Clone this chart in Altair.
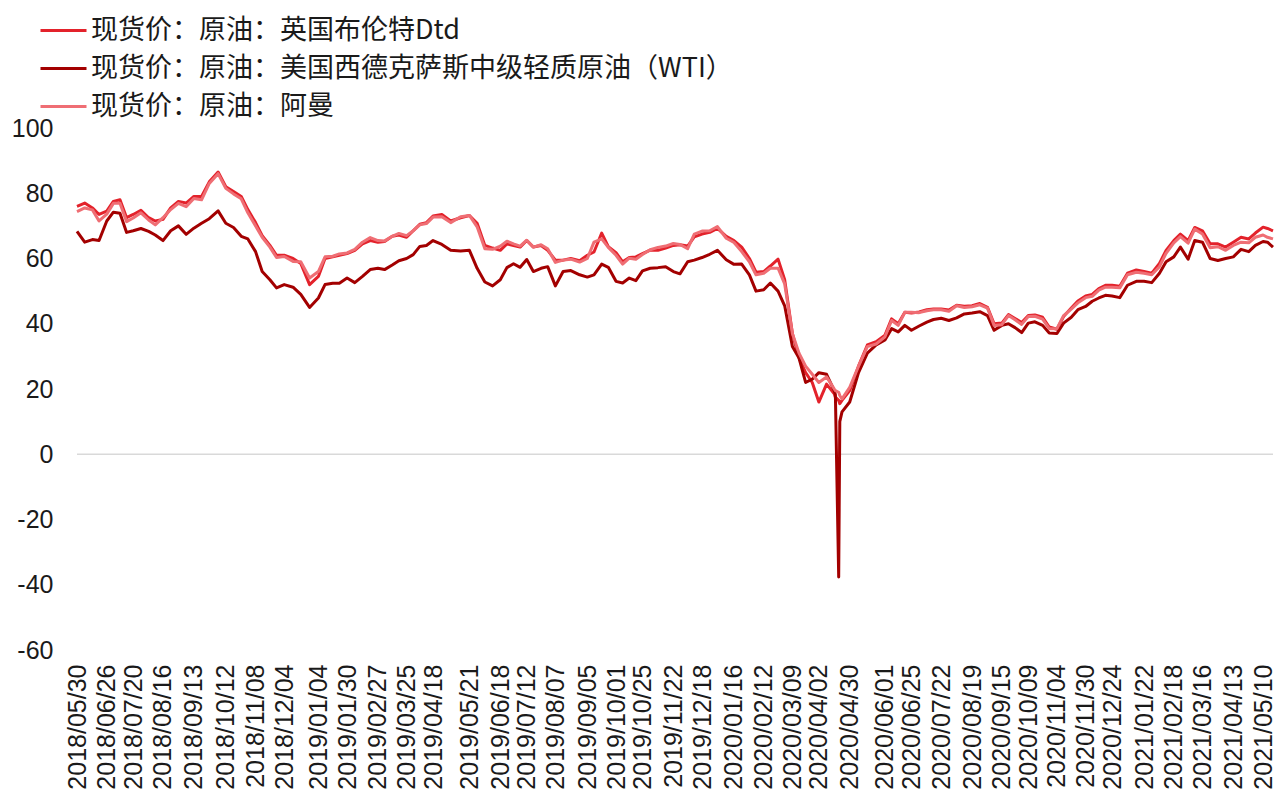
import altair as alt
import pandas as pd

# ---------------- data ----------------
tick_labels = [
    "2018/05/30", "2018/06/26", "2018/07/20", "2018/08/16", "2018/09/13", "2018/10/12",
    "2018/11/08", "2018/12/04", "2019/01/04", "2019/01/30", "2019/02/27", "2019/03/25",
    "2019/04/18", "2019/05/21", "2019/06/18", "2019/07/12", "2019/08/07", "2019/09/05",
    "2019/10/01", "2019/10/25", "2019/11/22", "2019/12/18", "2020/01/16", "2020/02/12",
    "2020/03/09", "2020/04/02", "2020/04/30", "2020/06/01", "2020/06/25", "2020/07/22",
    "2020/08/19", "2020/09/15", "2020/10/09", "2020/11/04", "2020/11/30", "2020/12/24",
    "2021/01/22", "2021/02/18", "2021/03/16", "2021/04/13", "2021/05/10",
]

y_ticks = [-60, -40, -20, 0, 20, 40, 60, 80, 100]

dates = [
    "2018-05-30", "2018-06-06", "2018-06-13", "2018-06-19",
    "2018-06-26", "2018-07-02", "2018-07-08", "2018-07-14",
    "2018-07-20", "2018-07-27", "2018-08-03", "2018-08-09",
    "2018-08-16", "2018-08-23", "2018-08-30", "2018-09-06",
    "2018-09-13", "2018-09-20", "2018-09-27", "2018-10-05",
    "2018-10-12", "2018-10-19", "2018-10-26", "2018-11-01",
    "2018-11-08", "2018-11-14", "2018-11-21", "2018-11-27",
    "2018-12-04", "2018-12-12", "2018-12-19", "2018-12-27",
    "2019-01-04", "2019-01-10", "2019-01-17", "2019-01-23",
    "2019-01-30", "2019-02-06", "2019-02-13", "2019-02-20",
    "2019-02-27", "2019-03-05", "2019-03-12", "2019-03-18",
    "2019-03-25", "2019-03-31", "2019-04-06", "2019-04-12",
    "2019-04-18", "2019-04-26", "2019-05-04", "2019-05-13",
    "2019-05-21", "2019-05-28", "2019-06-04", "2019-06-11",
    "2019-06-18", "2019-06-24", "2019-06-30", "2019-07-06",
    "2019-07-12", "2019-07-18", "2019-07-25", "2019-07-31",
    "2019-08-07", "2019-08-14", "2019-08-21", "2019-08-29",
    "2019-09-05", "2019-09-11", "2019-09-18", "2019-09-24",
    "2019-10-01", "2019-10-07", "2019-10-13", "2019-10-19",
    "2019-10-25", "2019-11-01", "2019-11-08", "2019-11-15",
    "2019-11-22", "2019-11-28", "2019-12-05", "2019-12-11",
    "2019-12-18", "2019-12-25", "2020-01-01", "2020-01-09",
    "2020-01-16", "2020-01-23", "2020-01-30", "2020-02-05",
    "2020-02-12", "2020-02-18", "2020-02-25", "2020-03-02",
    "2020-03-09", "2020-03-15", "2020-03-21", "2020-03-27",
    "2020-04-02", "2020-04-09", "2020-04-16", "2020-04-17", "2020-04-20", "2020-04-21", "2020-04-23",
    "2020-04-30", "2020-05-08", "2020-05-16", "2020-05-24",
    "2020-06-01", "2020-06-07", "2020-06-13", "2020-06-19",
    "2020-06-25", "2020-07-02", "2020-07-09", "2020-07-15",
    "2020-07-22", "2020-07-29", "2020-08-05", "2020-08-12",
    "2020-08-19", "2020-08-26", "2020-09-02", "2020-09-08",
    "2020-09-15", "2020-09-21", "2020-09-27", "2020-10-03",
    "2020-10-09", "2020-10-15", "2020-10-22", "2020-10-28",
    "2020-11-04", "2020-11-10", "2020-11-17", "2020-11-23",
    "2020-11-30", "2020-12-06", "2020-12-12", "2020-12-18",
    "2020-12-24", "2020-12-31", "2021-01-07", "2021-01-15",
    "2021-01-22", "2021-01-29", "2021-02-05", "2021-02-11",
    "2021-02-18", "2021-02-24", "2021-03-03", "2021-03-09",
    "2021-03-16", "2021-03-23", "2021-03-30", "2021-04-06",
    "2021-04-13", "2021-04-20", "2021-04-27", "2021-05-03",
    "2021-05-10", "2021-05-14", "2021-05-19",
]

brent = [
    76.0, 77.0, 75.5, 73.5,
    74.5, 77.5, 78.0, 72.5,
    73.5, 74.8, 72.5, 71.5,
    72.0, 75.5, 77.5, 77.0,
    79.0, 79.0, 83.5, 86.5,
    82.0, 80.5, 79.0, 75.0,
    71.0, 67.0, 64.0, 61.0,
    61.0, 60.0, 58.5, 52.0,
    54.5, 60.0, 60.5, 61.0,
    61.5, 62.5, 64.5, 65.5,
    65.0, 65.2, 66.8, 67.2,
    66.5, 68.5, 70.5, 71.0,
    73.0, 73.5, 71.5, 72.5,
    73.2, 70.8, 64.0, 63.2,
    62.5, 64.5, 64.0, 63.5,
    65.5, 63.5, 64.0, 62.5,
    59.5, 59.5, 60.0, 59.3,
    61.0, 62.0, 67.8, 63.6,
    61.8, 59.0, 60.3, 60.5,
    61.5, 62.6, 62.5, 63.2,
    64.0, 64.2, 63.8, 66.6,
    67.5, 68.0, 69.2, 66.8,
    65.5, 63.5, 60.0, 55.8,
    56.0, 57.7, 59.8, 53.5,
    37.0, 29.5, 25.0, 22.0,
    16.0, 21.5, 18.5, 17.5, 16.5, 15.5, 16.5,
    19.5, 27.0, 33.5, 34.5,
    36.5, 41.5, 40.0, 43.5,
    43.3, 43.6, 44.3, 44.5,
    44.5, 44.2, 45.7, 45.4,
    45.5, 46.2, 45.0, 40.0,
    40.2, 42.8, 41.6, 40.4,
    42.5, 42.7, 42.0, 39.0,
    38.3, 42.2, 44.8, 47.0,
    48.5, 49.0, 50.8, 51.8,
    51.8, 51.5, 55.5, 56.5,
    56.0, 55.5, 58.5, 62.5,
    65.5, 67.5, 65.5, 69.5,
    68.5, 64.5, 64.5, 63.5,
    65.0, 66.5, 66.0, 67.8,
    69.6, 69.2, 68.5,
]

wti = [
    68.3, 65.0, 65.8, 65.5,
    71.5, 74.2, 73.9, 68.0,
    68.5, 69.2, 68.3, 67.2,
    65.5, 68.5, 70.0, 67.4,
    69.3, 70.8, 72.2, 74.6,
    70.8, 69.5, 66.8, 66.0,
    62.1, 56.0, 53.5, 51.0,
    52.0, 51.2, 49.0, 45.0,
    47.9, 52.0, 52.4, 52.4,
    54.0, 52.6, 54.5, 56.6,
    57.0, 56.6, 58.0, 59.3,
    60.0, 61.2, 63.7, 64.0,
    65.5, 64.3, 62.5, 62.3,
    62.5, 57.0, 52.8, 51.6,
    53.5, 57.2, 58.4, 57.3,
    59.7, 56.0, 57.0, 57.5,
    51.6, 56.0, 56.3, 55.0,
    54.3, 55.0, 58.3, 57.3,
    53.0, 52.5, 54.0, 53.2,
    56.2, 57.0, 57.2, 57.5,
    56.0, 55.3, 59.0, 59.5,
    60.3, 61.3, 62.5, 59.6,
    58.2, 58.3, 55.0, 50.0,
    50.4, 52.5, 50.0, 45.5,
    33.0, 29.5, 22.0, 23.0,
    25.0, 24.5, 19.5, 18.3, -37.6, 10.0, 13.0,
    16.0, 25.0, 31.0, 33.5,
    35.0, 38.5, 37.5, 39.5,
    38.0, 39.3, 40.5, 41.3,
    41.7, 41.0, 41.8, 43.0,
    43.3, 43.7, 42.5, 38.0,
    39.5, 40.0, 38.8, 37.3,
    40.2, 40.6, 39.5, 37.2,
    37.0, 40.2, 42.0, 44.3,
    45.3, 46.9, 47.9, 48.7,
    48.5, 48.0, 51.8, 53.0,
    53.0, 52.6, 55.5, 59.0,
    60.5, 63.5, 59.8, 65.5,
    65.0, 60.0, 59.4, 60.0,
    60.5, 62.8, 62.1, 64.0,
    65.2, 65.0, 63.5,
]

oman = [
    74.4, 75.5, 74.9, 71.5,
    73.6, 76.9, 76.9, 71.3,
    72.4, 74.0, 71.8, 70.3,
    72.5, 75.0, 76.9, 75.9,
    78.4, 78.0, 83.0, 86.0,
    81.5, 79.8, 78.3, 74.0,
    70.0, 66.5, 63.5, 60.3,
    60.6, 59.1, 59.0, 54.0,
    56.0, 60.5, 60.7, 61.4,
    61.7, 62.8, 65.0, 66.4,
    65.5, 65.4, 66.8, 67.7,
    67.0, 68.5, 70.3, 70.7,
    72.7, 72.8, 71.0, 72.8,
    73.2, 69.7, 63.0, 62.8,
    63.8, 65.3, 64.5, 63.8,
    65.6, 63.5, 64.2, 63.0,
    58.8, 59.5, 59.8, 58.9,
    60.0, 65.0, 66.0, 63.4,
    61.0, 58.3, 60.1, 59.8,
    61.2, 62.7, 63.4, 63.8,
    64.6, 64.3, 63.0, 67.5,
    68.4, 68.5, 69.8, 66.2,
    64.9, 62.1, 59.0, 55.0,
    55.5, 57.0, 57.0, 52.2,
    37.0, 31.0, 27.0, 24.5,
    22.0, 23.7, 20.0, 19.5, 19.0, 18.0, 17.0,
    20.5, 27.0, 33.0, 33.8,
    36.0, 41.0, 39.5, 43.5,
    43.5, 43.4, 44.0, 44.3,
    44.3, 43.8, 45.5, 45.0,
    45.2, 45.8, 44.8, 39.5,
    39.7, 42.5, 41.2, 39.8,
    42.2, 42.3, 41.4, 38.5,
    38.5, 42.5, 44.5, 46.4,
    48.0, 48.4, 50.3, 51.2,
    51.2, 51.0, 55.0, 55.8,
    55.5, 55.0, 57.5, 61.6,
    64.8, 66.7, 64.7, 69.0,
    67.5, 63.3, 63.6, 62.5,
    64.0, 65.0, 64.8, 66.5,
    67.2, 66.5, 66.0,
]

series_names = [
    "现货价：原油：英国布伦特Dtd",
    "现货价：原油：美国西德克萨斯中级轻质原油（WTI）",
    "现货价：原油：阿曼",
]
series_colors = ["#E3222B", "#A30000", "#EF6E74"]

# ---------------- build table ----------------
rows = []
for name, vals in zip(series_names, [brent, wti, oman]):
    for d, v in zip(dates, vals):
        rows.append({"date": d, "series": name, "value": v})
df = pd.DataFrame(rows)

tick_ts = [int(pd.Timestamp(t.replace("/", "-")).timestamp() * 1000) for t in tick_labels]
x_domain = [int(pd.Timestamp(dates[0]).timestamp() * 1000),
            int(pd.Timestamp(dates[-1]).timestamp() * 1000)]

NUM_FONT = "Liberation Sans"
CJK_FONT = "Noto Sans CJK SC"
TEXT_COLOR = "#1a1a1a"

x_enc = alt.X(
    "date:T",
    scale=alt.Scale(type="utc", domain=x_domain),
    axis=alt.Axis(
        values=tick_ts, labelExpr="utcFormat(datum.value, '%Y/%m/%d')", labelAngle=270,
        labelFont=NUM_FONT, labelFontSize=25, labelColor=TEXT_COLOR, labelPadding=14,
        ticks=False, domain=False, grid=False, title=None,
        labelOverlap=False, labelFlush=False, labelBound=False,
    ),
)
y_enc = alt.Y(
    "value:Q",
    scale=alt.Scale(domain=[-60, 100], nice=False, zero=False),
    axis=alt.Axis(
        values=y_ticks, labelExpr="'' + datum.value", labelFont=NUM_FONT, labelFontSize=25,
        labelColor=TEXT_COLOR, labelPadding=24, ticks=False, domain=False, grid=False,
        title=None,
    ),
)
color_enc = alt.Color(
    "series:N",
    scale=alt.Scale(domain=series_names, range=series_colors),
    legend=alt.Legend(
        orient="none", legendX=-38, legendY=-122, title=None, symbolType="stroke",
        symbolSize=2116, symbolStrokeWidth=3, labelFont=CJK_FONT, labelFontSize=27,
        labelColor=TEXT_COLOR, rowPadding=0, labelOffset=3, labelLimit=0,
        direction="vertical",
    ),
)

zero_rule = alt.Chart(pd.DataFrame({"value": [0]})).mark_rule(
    color="#d9d9d9", strokeWidth=1.5
).encode(y=alt.Y("value:Q"))

layers = [zero_rule]
for name in series_names:
    layers.append(
        alt.Chart(df).transform_filter(alt.datum.series == name)
        .mark_line(strokeWidth=3, strokeJoin="round")
        .encode(x=x_enc, y=y_enc, color=color_enc)
    )

chart = alt.layer(*layers).properties(
    width=1196, height=522, background="white",
    autosize=alt.AutoSizeParams(type="none"),
    padding={"left": 69, "top": 120, "right": 6, "bottom": 143},
).configure_view(stroke=None)

chart.save("out.html", embed_options={"renderer": "svg", "actions": False})
